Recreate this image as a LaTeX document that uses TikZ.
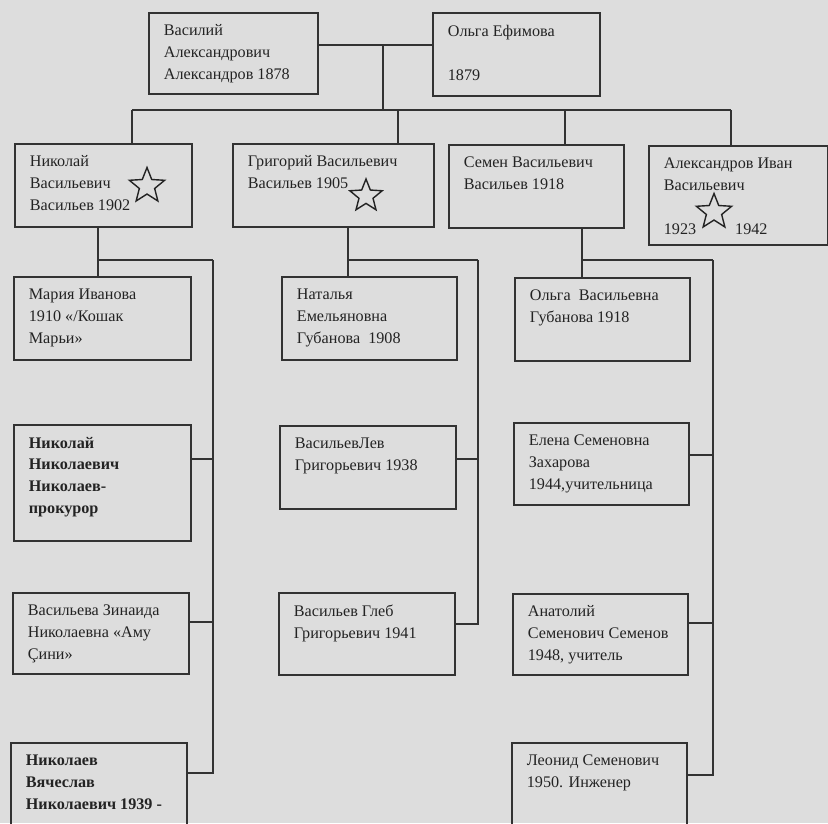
\documentclass[tikz,border=0pt]{standalone}
\usepackage{fontspec}
\setmainfont{Liberation Serif}
\usetikzlibrary{shapes.geometric}
\definecolor{paper}{RGB}{221,221,221}
\definecolor{wire}{RGB}{50,50,50}
\definecolor{ink}{RGB}{35,35,35}
% box text: width and height in px, lines may not wrap
\newcommand{\card}[3]{\parbox[b][\dimexpr0.02cm*#2-0.48cm][t]{\dimexpr0.02cm*#1-0.6cm}{\raggedright\rightskip=-1cm plus 1fil\relax #3}}
\tikzset{person/.style={draw=wire,line width=1pt,anchor=north west,inner xsep=0.3cm,inner ysep=0.24cm,font=\fontsize{9.2}{12.5}\selectfont,text=ink},
  link/.style={draw=wire,line width=1.1pt},
  medal/.style={star,star points=5,star point ratio=2.3,draw=ink,line width=.8pt,minimum size=0.74cm,inner sep=0pt}}

\begin{document}
\begin{tikzpicture}[x=0.02cm,y=-0.02cm]
\fill[paper] (0,0) rectangle (828,823);
\clip (0,0) rectangle (828,823);
% parents
\node[person] (vas) at (148,12) {\card{169}{81}{Василий\\Александрович\\Александров 1878}};
\node[person] (olga) at (432,12) {\card{167}{83}{Ольга Ефимова\\\mbox{}\\1879}};
% children
\node[person] (nik) at (14,143) {\card{177}{83}{Николай\\Васильевич\\Васильев 1902}};
\node[person] (grig) at (232,143) {\card{201}{83}{Григорий Васильевич\\Васильев 1905}};
\node[person] (sem) at (448,144) {\card{175}{83}{Семен Васильевич\\Васильев 1918}};
\node[person] (ivan) at (648,145) {\card{179}{99}{Александров Иван\\Васильевич\\\mbox{}\\1923\hspace{0.78cm}1942}};
\node[medal] (st1) at (147,186) {};
\node[medal,minimum size=0.68cm] (st2) at (366,196) {};
\node[medal] (st3) at (714,212) {};
% spouses
\node[person] (mar) at (13,276) {\card{177}{83}{Мария Иванова\\1910 «/Кошак\\Марьи»}};
\node[person] (nat) at (281,276) {\card{175}{83}{Наталья\\Емельяновна\\Губанова~~1908}};
\node[person] (olgav) at (514,277) {\card{175}{83}{Ольга~~Васильевна\\Губанова 1918}};
% grandchildren
\node[person] (nn) at (13,424) {\card{177}{116}{\bfseries Николай\\Николаевич\\Николаев-\\прокурор}};
\node[person] (zin) at (12,592) {\card{176}{81}{Васильева Зинаида\\Николаевна «Аму\\Çини»}};
\node[person] (vya) at (10,742) {\card{176}{100}{\bfseries Николаев\\Вячеслав\\Николаевич 1939 -}};
\node[person] (lev) at (279,425) {\card{176}{83}{ВасильевЛев\\Григорьевич 1938}};
\node[person] (gleb) at (278,592) {\card{176}{82}{Васильев Глеб\\Григорьевич 1941}};
\node[person] (elena) at (513,422) {\card{175}{82}{Елена Семеновна\\Захарова\\1944,учительница}};
\node[person] (anat) at (512,593) {\card{175}{81}{Анатолий\\Семенович Семенов\\1948, учитель}};
\node[person] (leon) at (511,742) {\card{175}{100}{Леонид Семенович\\1950. Инженер}};
% top level lines
\coordinate (wed) at (383,45);
\coordinate (bus) at (383,110);
\coordinate (d1) at (132,110);
\coordinate (d2) at (398,110);
\coordinate (d3) at (565,110);
\coordinate (d4) at (731,110);
\draw[link] (vas.east|-wed) -- (olga.west|-wed);
\draw[link] (wed) -- (bus);
\draw[link] (d1) -- (d4);
\foreach \d/\p in {d1/nik,d2/grig,d3/sem,d4/ivan}
  \draw[link] (\d) -- (\d|-\p.north);
% family lines
\coordinate (n0) at (98,260);  \coordinate (n1) at (213,260);
\coordinate (g0) at (348,260); \coordinate (g1) at (478,260);
\coordinate (s0) at (582,260); \coordinate (s1) at (713,260);
\draw[link] (n0|-nik.south) -- (n0|-mar.north);
\draw[link] (g0|-grig.south) -- (g0|-nat.north);
\draw[link] (s0|-sem.south) -- (s0|-olgav.north);
\draw[link] (n0) -- (n1);
\draw[link] (g0) -- (g1);
\draw[link] (s0) -- (s1);
\draw[link] (n1) |- ([yshift=-.7cm]nn.north east);
\draw[link] (n1) |- ([yshift=-.6cm]zin.north east);
\draw[link] (n1) |- ([yshift=-.62cm]vya.north east);
\draw[link] (g1) |- ([yshift=-.68cm]lev.north east);
\draw[link] (g1) |- ([yshift=-.64cm]gleb.north east);
\draw[link] (s1) |- ([yshift=-.66cm]elena.north east);
\draw[link] (s1) |- ([yshift=-.6cm]anat.north east);
\draw[link] (s1) |- ([yshift=-.66cm]leon.north east);
\end{tikzpicture}
\end{document}
